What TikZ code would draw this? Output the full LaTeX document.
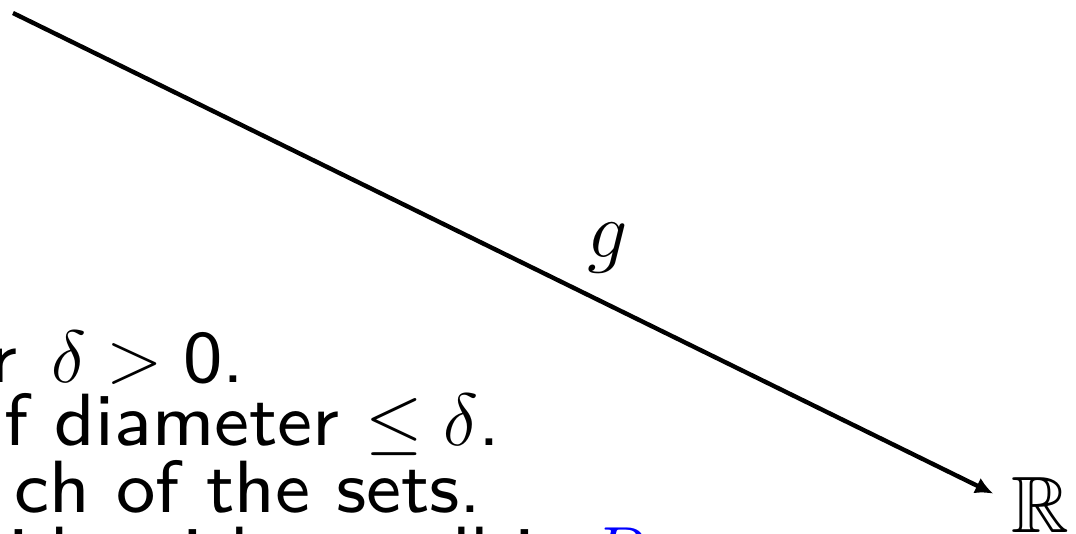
\RequirePackage{fix-cm}
\documentclass[tikz,border=0pt]{standalone}
\usepackage{fontspec}
\usepackage{amsmath,amssymb}
\usepackage{xcolor}
\usepackage{tikz}
\usetikzlibrary{arrows.meta,positioning}
\newfontfamily\slidesf{lmsans8-regular.otf}

\begin{document}
\begin{tikzpicture}[
  x=0.5pt,y=-0.5pt,
  txt/.style={anchor=base east,inner sep=0pt,
    font=\slidesf\fontsize{37}{32.5}\selectfont},
  lbl/.style={font=\fontsize{40}{48}\selectfont},
  arr/.style={-{Latex[length=9pt,width=8.5pt]},line width=2.2pt}
]
\useasboundingbox (0,0) rectangle (1076,534);
\clip (0,0) rectangle (1076,534);

\node[txt] (cond) at (245,382) {r\hspace{4pt} $\delta > \mbox{0}$.};
\node[txt] (diam) at (501,445) {f diameter $\leq \delta$.};
\node[txt] (sets) at (482,512) {ch of the sets.};
\node[txt,anchor=base west] (call) at (9,578)
  {ide with $\varepsilon$, call it \textcolor{blue}{$R$}};

\coordinate (src) at (13,13);
\node[lbl,anchor=base,text depth=12pt] (R) at (1040,532) {$\mathbb{R}$};

\draw[arr,shorten >=6pt] (src) -- node[lbl,pos=0.6,above=11.5pt] (g) {$g$} (R);
\end{tikzpicture}
\end{document}
